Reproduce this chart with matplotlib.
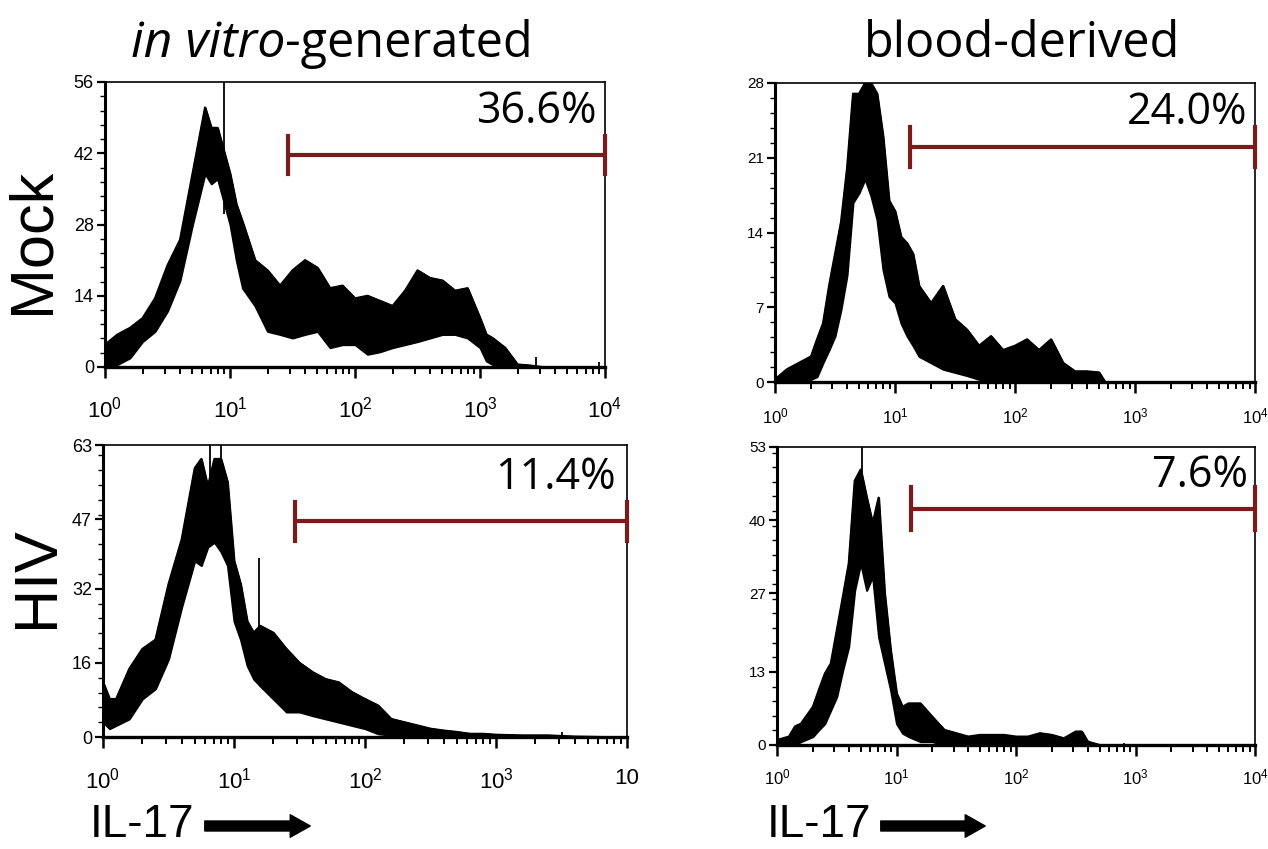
import numpy as np
import matplotlib
matplotlib.use("Agg")
import matplotlib.pyplot as plt
from matplotlib.patches import FancyArrowPatch
from matplotlib.ticker import FixedLocator, AutoMinorLocator, LogLocator, NullFormatter

plt.rcParams['font.family'] = ['Liberation Sans', 'DejaVu Sans']
plt.rcParams['mathtext.fontset'] = 'custom'
plt.rcParams['mathtext.rm'] = 'Liberation Sans'
plt.rcParams['mathtext.it'] = 'Liberation Sans:italic'

# --- data (x as log10 of IL-17 intensity, y as counts) ---
# in vitro-generated, Mock
iv_mock_x = [0.0, 0.1, 0.2, 0.3, 0.4, 0.5, 0.6, 0.7, 0.8, 0.85, 0.9, 1.0, 1.05, 1.1, 1.2, 1.3,
             1.4, 1.5, 1.6, 1.7, 1.8, 1.9, 2.0, 2.1, 2.2, 2.3, 2.4, 2.5, 2.6, 2.7, 2.8, 2.9,
             3.0, 3.05, 3.1, 3.2, 3.3, 3.4, 3.5]
iv_mock_hi = [4.4, 6.4, 7.7, 9.6, 13.5, 20, 25, 38, 51, 47, 47, 38, 32, 28.5, 21, 19,
              16, 19, 21, 19.5, 15.5, 16, 13.5, 14, 13, 12, 15, 19, 17.5, 17, 15, 15.5,
              9.6, 6.4, 5.7, 3.8, 0.5, 0.3, 0]
iv_mock_lo = [0, 0.5, 1.8, 5, 7, 11, 17, 28, 38, 36, 37, 28, 21, 15.5, 12, 7,
              6.4, 5.7, 6.4, 7, 3.8, 4.4, 4.4, 2.5, 3, 3.8, 4.4, 5, 5.7, 6.4, 6.4, 5.7,
              3.8, 1.2, 0.5, 0, 0, 0, 0]
iv_mock_spike_x = [0.95, 3.45, 3.95]
iv_mock_spike_lo = [30, 0, 0]
iv_mock_spike_hi = [56, 2, 1]

# blood-derived, Mock
bd_mock_x = [0.0, 0.1, 0.2, 0.3, 0.35, 0.4, 0.45, 0.5, 0.55, 0.6, 0.65, 0.7, 0.75, 0.8, 0.85,
             0.9, 0.95, 1.0, 1.05, 1.1, 1.15, 1.2, 1.3, 1.4, 1.5, 1.6, 1.7, 1.8, 1.9, 2.0,
             2.1, 2.2, 2.3, 2.4, 2.5, 2.6, 2.7, 2.75]
bd_mock_hi = [0.25, 1.2, 1.8, 2.4, 4, 5.5, 9, 12, 15, 20, 27, 27, 28, 28, 27,
              23, 17, 16, 13.6, 13, 12, 9, 7.4, 9, 5.9, 4.9, 3.4, 4.3, 3, 3.4,
              4, 3, 4, 1.8, 1, 1, 0.9, 0]
bd_mock_lo = [0, 0, 0.2, 0.25, 0.5, 1.8, 3, 4.3, 6.8, 10, 16.8, 17.7, 19, 17.4, 15.2,
              10.5, 8, 7.4, 5.5, 4.3, 3.4, 2.4, 1.8, 1.2, 0.9, 0.6, 0.25, 0, 0, 0,
              0, 0, 0, 0, 0, 0, 0, 0]
bd_mock_spike_x = [0.74, 0.79]
bd_mock_spike_lo = [20, 20]
bd_mock_spike_hi = [28, 28]

# in vitro-generated, HIV
iv_hiv_x = [0.0, 0.05, 0.1, 0.2, 0.3, 0.4, 0.5, 0.6, 0.7, 0.75, 0.8, 0.85, 0.9, 0.95, 1.0,
            1.05, 1.1, 1.15, 1.2, 1.3, 1.4, 1.5, 1.6, 1.7, 1.8, 1.9, 2.0, 2.1, 2.2, 2.3,
            2.4, 2.5, 2.6, 2.7, 2.8, 2.9, 3.0, 3.2, 3.4, 3.6, 3.8]
iv_hiv_hi = [11.8, 8.2, 8.2, 14.7, 19, 21, 33, 42.6, 58, 60, 54, 60, 60, 55, 38,
             33, 25, 22.5, 24, 22.5, 19, 16, 14, 12.5, 11.8, 9.7, 8.2, 6.8, 3.9, 3.2,
             2.5, 1.8, 1.4, 1.1, 0.7, 0.7, 0.5, 0.35, 0.35, 0.1, 0]
iv_hiv_lo = [3.2, 1.8, 2.5, 3.9, 8.2, 10.4, 16.8, 28, 38, 37, 41, 42, 40, 37, 25,
             21, 15.4, 12.5, 11, 8.2, 5.4, 5.4, 4.6, 3.9, 3.2, 2.5, 1.8, 0.7, 0.4, 0,
             0, 0, 0, 0, 0, 0, 0, 0, 0, 0, 0]
iv_hiv_spike_x = [0.82, 0.9, 1.19, 3.5]
iv_hiv_spike_lo = [42, 40, 20, 0]
iv_hiv_spike_hi = [63, 63, 38.6, 1]

# blood-derived, HIV
bd_hiv_x = [0.0, 0.1, 0.15, 0.2, 0.3, 0.35, 0.4, 0.45, 0.5, 0.55, 0.6, 0.65, 0.7, 0.75, 0.8,
            0.85, 0.9, 0.95, 1.0, 1.05, 1.1, 1.2, 1.3, 1.4, 1.5, 1.6, 1.7, 1.8, 1.9, 2.0,
            2.1, 2.2, 2.3, 2.4, 2.5, 2.55, 2.6, 2.7]
bd_hiv_hi = [0.9, 1.5, 3.3, 3.8, 6.8, 9.8, 12.7, 14.5, 20.4, 26.3, 32.3, 47, 49, 44, 39.4,
             44, 27, 16.9, 9.2, 6.8, 7.4, 7.4, 5, 2.7, 2.1, 1.5, 1.8, 1.8, 1.8, 1.5,
             1.5, 2.1, 1.8, 1.2, 2.4, 2.4, 0.6, 0]
bd_hiv_lo = [0, 0, 0, 0.6, 1.5, 2.7, 3.8, 6.2, 8.6, 13.3, 17.5, 27.5, 32.3, 27.5, 30,
             19.2, 14.5, 9.8, 3.8, 2.1, 1.5, 0.6, 0.6, 0, 0, 0, 0, 0, 0, 0,
             0, 0, 0, 0, 0, 0, 0, 0]
bd_hiv_spike_x = [0.71, 2.9]
bd_hiv_spike_lo = [32, 0]
bd_hiv_spike_hi = [53, 0.3]

# gates and percentages
gate_start = [29, 13.3, 29, 13.2]
gate_level = [41.7, 22.0, 46.5, 42.0]
gate_cap = [3.7, 1.9, 4.2, 3.8]
percents = ["36.6%", "24.0%", "11.4%", "7.6%"]

y_max = [56, 28, 63, 53]
y_ticks = [[0, 14, 28, 42, 56], [0, 7, 14, 21, 28], [0, 16, 32, 47, 63], [0, 13, 27, 40, 53]]
x_ticks = [1, 10, 100, 1000, 10000]
x_exps = ["0", "1", "2", "3", "4"]

W, H = 1268, 849
fig = plt.figure(figsize=(W / 100, H / 100), dpi=100)

# panel boxes in pixels: left, top, right, bottom
boxes = [(105, 82, 605, 367), (775, 83, 1255, 382), (103, 445, 627, 737), (777, 447, 1255, 745)]
panels = [
    (iv_mock_x, iv_mock_hi, iv_mock_lo, iv_mock_spike_x, iv_mock_spike_lo, iv_mock_spike_hi),
    (bd_mock_x, bd_mock_hi, bd_mock_lo, bd_mock_spike_x, bd_mock_spike_lo, bd_mock_spike_hi),
    (iv_hiv_x, iv_hiv_hi, iv_hiv_lo, iv_hiv_spike_x, iv_hiv_spike_lo, iv_hiv_spike_hi),
    (bd_hiv_x, bd_hiv_hi, bd_hiv_lo, bd_hiv_spike_x, bd_hiv_spike_lo, bd_hiv_spike_hi),
]
xtick_size = [16, 12, 16, 12]
ytick_size = [13, 11, 13, 11]
xtick_pad = [13, 10, 14, 8]
pct_pos = [(0.984, 0.895), (0.985, 0.90), (0.979, 0.887), (0.985, 0.903)]
red = "#7a1c1c"

for i, (box, (lx, hi, lo, sx, slo, shi)) in enumerate(zip(boxes, panels)):
    l, t, r, b = box
    ax = fig.add_axes([l / W, 1 - b / H, (r - l) / W, (b - t) / H])
    ax.set_xscale('log')
    x = 10 ** np.array(lx)
    ax.fill_between(x, lo, hi, color='black', lw=1.5)
    ax.plot(x, hi, color='black', lw=1.5)
    ax.vlines(10 ** np.array(sx), slo, shi, color='black', lw=1.3)

    ax.set_xlim(1, 10000)
    ax.set_ylim(0, y_max[i])

    # gate bar
    ax.plot([gate_start[i], 10000], [gate_level[i]] * 2, color=red, lw=3.0, clip_on=False,
            solid_capstyle='butt', zorder=5)
    for gx in (gate_start[i], 10000):
        ax.plot([gx, gx], [gate_level[i] - gate_cap[i], gate_level[i] + gate_cap[i]],
                color=red, lw=3.0, clip_on=False, zorder=5)

    ax.text(pct_pos[i][0], pct_pos[i][1], percents[i], transform=ax.transAxes,
            ha='right', va='center', fontsize=31, family=['Open Sans', 'DejaVu Sans'])

    ax.xaxis.set_major_locator(FixedLocator(x_ticks))
    labels = [r"$\mathregular{10^{%s}}$" % e for e in x_exps]
    if i == 2:
        labels[-1] = "10"
    ax.set_xticklabels(labels, fontsize=xtick_size[i])
    ax.xaxis.set_minor_locator(LogLocator(base=10, subs=np.arange(2, 10)))
    ax.xaxis.set_minor_formatter(NullFormatter())
    ax.yaxis.set_major_locator(FixedLocator(y_ticks[i]))
    ax.set_yticklabels([str(v) for v in y_ticks[i]], fontsize=ytick_size[i])
    ax.yaxis.set_minor_locator(AutoMinorLocator(5))

    ax.tick_params(axis='x', which='major', direction='out', length=8, width=1.8, pad=xtick_pad[i])
    ax.tick_params(axis='x', which='minor', direction='out', length=5, width=1.4)
    ax.tick_params(axis='y', which='major', direction='out', length=6, width=1.6, pad=2)
    ax.tick_params(axis='y', which='minor', direction='out', length=3.5, width=1.0)
    ax.spines['left'].set_linewidth(2.2)
    ax.spines['bottom'].set_linewidth(2.4)
    ax.spines['top'].set_linewidth(1.2)
    ax.spines['right'].set_linewidth(1.2)

# titles
fig.text(285 / W, 1 - 57 / H, "in vitro", ha='right', va='baseline', fontsize=36,
         style='italic', family=['Open Sans', 'DejaVu Sans'])
fig.text(285 / W, 1 - 57 / H, "-generated", ha='left', va='baseline', fontsize=35,
         family=['Open Sans', 'DejaVu Sans'])
fig.text(1022 / W, 1 - 57 / H, "blood-derived", ha='center', va='baseline', fontsize=35,
         family=['Open Sans', 'DejaVu Sans'])

# row labels
fig.text(33 / W, 1 - 241 / H, "Mock", rotation=90, ha='center', va='center', fontsize=44)
fig.text(38 / W, 1 - 577 / H, "HIV", rotation=90, ha='center', va='center', fontsize=44)

# axis labels with arrows
for x0, x1, x2 in [(90, 202, 313), (767, 878, 988)]:
    fig.text(x0 / W, 1 - 837 / H, "IL-17", ha='left', va='baseline', fontsize=33)
    fig.add_artist(FancyArrowPatch(
        (x1 / W, 1 - 826 / H), (x2 / W, 1 - 826 / H), transform=fig.transFigure,
        arrowstyle='simple,head_width=1.35,head_length=1.2,tail_width=0.6',
        mutation_scale=12, color='black'))

fig.savefig("out.png", dpi=100)
